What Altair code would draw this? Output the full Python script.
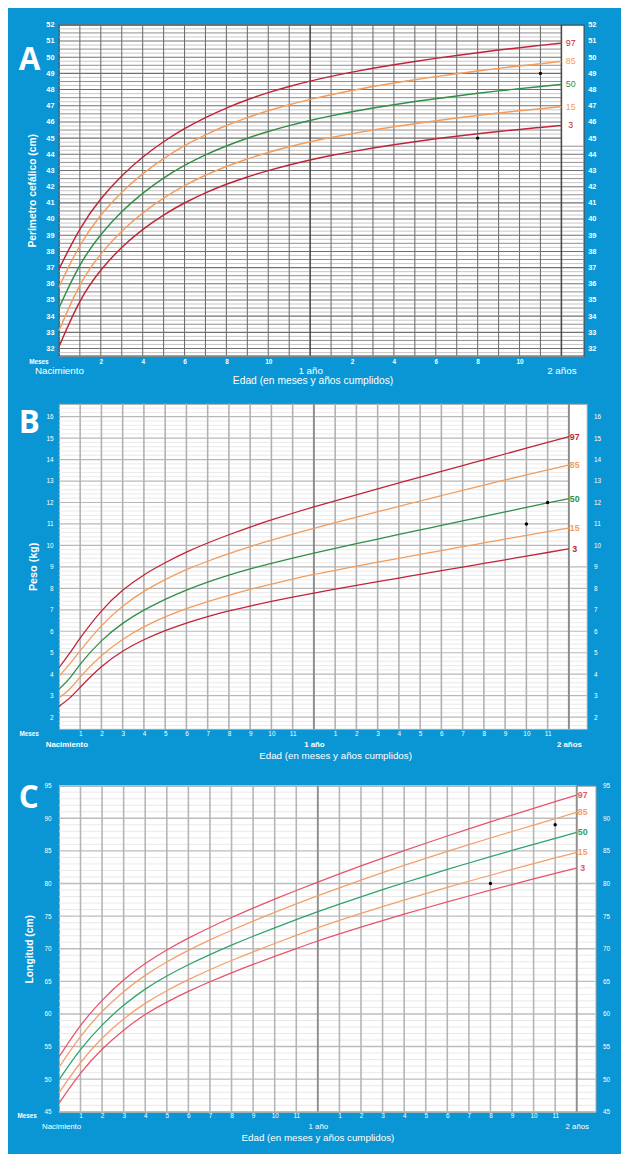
import altair as alt
import pandas as pd

# ---------------- data ----------------
months = list(range(25))
months_b = [0, 0.5] + list(range(1, 25))
pct_names = ["97", "85", "50", "15", "3"]

# A: Perímetro cefálico (cm)
hc_p97 = [36.9, 39.5, 41.3, 42.7, 43.85, 44.8, 45.6, 46.28, 46.87, 47.38, 47.82, 48.2, 48.53,
          48.82, 49.08, 49.32, 49.54, 49.74, 49.93, 50.11, 50.28, 50.44, 50.59, 50.73, 50.87]
hc_p85 = [35.8, 38.5, 40.3, 41.7, 42.82, 43.76, 44.55, 45.22, 45.79, 46.28, 46.7, 47.07, 47.4,
          47.69, 47.95, 48.19, 48.41, 48.61, 48.8, 48.98, 49.15, 49.31, 49.46, 49.6, 49.74]
hc_p50 = [34.5, 37.3, 39.1, 40.5, 41.62, 42.56, 43.33, 43.98, 44.53, 45.0, 45.42, 45.78, 46.1,
          46.38, 46.63, 46.86, 47.07, 47.26, 47.44, 47.61, 47.77, 47.92, 48.06, 48.19, 48.32]
hc_p15 = [33.1, 36.1, 37.9, 39.3, 40.4, 41.32, 42.08, 42.72, 43.26, 43.72, 44.12, 44.47, 44.78,
          45.04, 45.28, 45.5, 45.7, 45.89, 46.07, 46.24, 46.4, 46.55, 46.69, 46.82, 46.94]
hc_p3 = [32.1, 35.1, 36.9, 38.3, 39.38, 40.27, 41.01, 41.63, 42.16, 42.61, 43.0, 43.35, 43.66,
         43.93, 44.17, 44.39, 44.59, 44.78, 44.96, 45.12, 45.27, 45.41, 45.54, 45.66, 45.78]
a_pts_x = [20, 23]
a_pts_y = [45, 49]

# B: Peso (kg)  (months_b)
wt_p97 = [4.3, 4.95, 5.7, 7.0, 7.95, 8.65, 9.2, 9.7, 10.12, 10.5, 10.86, 11.19, 11.5, 11.8,
          12.08, 12.36, 12.64, 12.91, 13.18, 13.45, 13.72, 13.99, 14.26, 14.53, 14.8, 15.07]
wt_p85 = [3.9, 4.45, 5.1, 6.3, 7.2, 7.88, 8.42, 8.88, 9.27, 9.62, 9.95, 10.25, 10.53, 10.8,
          11.06, 11.32, 11.57, 11.82, 12.07, 12.32, 12.57, 12.81, 13.05, 13.29, 13.52, 13.75]
wt_p50 = [3.3, 3.75, 4.5, 5.6, 6.4, 7.0, 7.5, 7.93, 8.3, 8.62, 8.91, 9.17, 9.41, 9.64,
          9.86, 10.08, 10.3, 10.51, 10.72, 10.93, 11.14, 11.35, 11.56, 11.77, 11.98, 12.18]
wt_p15 = [2.9, 3.25, 3.9, 4.9, 5.65, 6.22, 6.68, 7.06, 7.39, 7.68, 7.95, 8.2, 8.43, 8.65,
          8.84, 9.03, 9.22, 9.4, 9.58, 9.76, 9.94, 10.12, 10.3, 10.47, 10.64, 10.81]
wt_p3 = [2.5, 2.85, 3.4, 4.4, 5.1, 5.62, 6.04, 6.39, 6.69, 6.95, 7.18, 7.39, 7.59, 7.78,
         7.96, 8.14, 8.31, 8.48, 8.65, 8.82, 8.99, 9.16, 9.33, 9.5, 9.67, 9.84]
b_pts_x = [22, 23]
b_pts_y = [11, 12]

# C: Longitud (cm)
ln_p97 = [53.4, 58.4, 62.2, 65.3, 67.8, 69.85, 71.65, 73.28, 74.8, 76.24, 77.61, 78.93, 80.22,
          81.48, 82.7, 83.89, 85.05, 86.18, 87.29, 88.38, 89.45, 90.5, 91.53, 92.55, 93.56]
ln_p85 = [51.8, 56.7, 60.5, 63.5, 66.0, 68.0, 69.77, 71.37, 72.85, 74.25, 75.59, 76.88, 78.15,
          79.35, 80.52, 81.66, 82.77, 83.86, 84.92, 85.96, 86.98, 87.98, 88.96, 89.93, 90.9]
ln_p50 = [49.9, 54.7, 58.4, 61.4, 63.9, 65.85, 67.57, 69.12, 70.56, 71.92, 73.22, 74.47, 75.69,
          76.85, 77.97, 79.06, 80.12, 81.15, 82.16, 83.15, 84.12, 85.07, 86.0, 86.92, 87.83]
ln_p15 = [47.9, 52.7, 56.4, 59.3, 61.7, 63.6, 65.28, 66.8, 68.21, 69.54, 70.81, 72.04, 73.24,
          74.35, 75.42, 76.46, 77.47, 78.45, 79.41, 80.35, 81.27, 82.17, 83.05, 83.92, 84.78]
ln_p3 = [46.3, 51.1, 54.7, 57.6, 60.0, 61.85, 63.48, 64.95, 66.32, 67.61, 68.84, 70.03, 71.2,
         72.27, 73.31, 74.32, 75.3, 76.25, 77.18, 78.09, 78.98, 79.85, 80.7, 81.54, 82.37]
c_pts_x = [20, 23]
c_pts_y = [80, 89]

# axis ticks / labels
a_yticks = list(range(32, 53))
b_yticks = list(range(2, 17))
c_yticks = list(range(45, 96, 5))
a_num_ticks = [2, 4, 6, 8, 10, 14, 16, 18, 20, 22]
bc_num_ticks = [m for m in range(1, 24) if m != 12]
a_name_ticks = [0, 12, 24]
b_name_ticks = [0.35, 12, 24]
c_name_ticks = [0.1, 12, 24]
x_title = "Edad (en meses y años cumplidos)"

BLUE = "#0a96d4"
FONT = "Liberation Sans"


def panel(letter, mx, series, pts_x, pts_y, xmax, ydom, w, h, yticks, num_ticks, name_ticks,
          hgrid, vgrid, thr, colors, st):
    xs = alt.Scale(domain=[0, xmax], nice=False, zero=False)
    ys = alt.Scale(domain=list(ydom), nice=False, zero=False)

    rows = [{"pct": p, "m": m, "v": v}
            for p, vals in zip(pct_names, series) for m, v in zip(mx, vals)]
    cdf = pd.DataFrame(rows)
    edf = pd.DataFrame({"pct": pct_names, "m": [mx[-1]] * 5,
                        "v": [vals[-1] for vals in series]})
    pdf = pd.DataFrame({"m": pts_x, "v": pts_y})
    col = alt.Color("pct:N", scale=alt.Scale(domain=pct_names, range=colors), legend=None)

    lab = dict(labelColor="white", labelFont=FONT, labelFontWeight=st["lw"],
               labelOverlap=False, labelFlush=False, ticks=False, tickSize=0,
               domain=False, grid=False)

    left_axis = alt.Axis(orient="left", values=yticks, format="d",
                         labelFontSize=st["ylfs"], labelPadding=st["ylp"],
                         title=st["ytitle"], titleColor="white", titleFont=FONT,
                         titleFontSize=st["ytfs"], titleFontWeight="bold",
                         titleAngle=270, titleX=st["ytx"], titleY=h / 2,
                         titleAlign="center", titleBaseline="middle", **lab)
    right_axis = alt.Axis(orient="right", values=yticks, format="d",
                          labelFontSize=st["ylfs"], labelPadding=st["yrp"],
                          title=None, **lab)
    num_axis = alt.Axis(orient="bottom", values=num_ticks,
                        labelExpr="'' + (datum.value > 12 ? datum.value - 12 : datum.value)",
                        labelFontSize=st["nfs"], labelPadding=st["nlp"],
                        title="Meses", titleColor="white", titleFont=FONT,
                        titleFontSize=st["mfs"], titleFontWeight="bold",
                        titleX=st["mx"], titleY=st["my"], titleAlign="right",
                        titleBaseline="middle", **lab)
    lab2 = dict(lab)
    lab2["labelFontWeight"] = st["namew"]
    names_axis = alt.Axis(orient="bottom", values=name_ticks,
                          labelExpr="datum.value < 1 ? 'Nacimiento' : (datum.value == 12 ? '1 año' : '2 años')",
                          labelFontSize=st["namefs"], labelPadding=st["namelp"],
                          title=x_title, titleColor="white", titleFont=FONT,
                          titleFontSize=st["xtfs"], titleFontWeight="normal",
                          titleX=st["xtx"], titleY=st["xty"], titleAlign="center",
                          titleBaseline="middle", **lab2)

    layers = []
    for i, (vals, c, sw) in enumerate(hgrid):
        df = pd.DataFrame({"v": vals, "x0": [0.0] * len(vals),
                           "x1": [24 if v > thr else xmax for v in vals]})
        layers.append(alt.Chart(df).mark_rule(color=c, strokeWidth=sw).encode(
            y=alt.Y("v:Q", scale=ys, axis=left_axis if i == len(hgrid) - 1 else None),
            x=alt.X("x0:Q", scale=xs, axis=None), x2="x1:Q"))
    for i, (vals, c, sw) in enumerate(vgrid):
        df = pd.DataFrame({"m": vals})
        layers.append(alt.Chart(df).mark_rule(color=c, strokeWidth=sw).encode(
            x=alt.X("m:Q", scale=xs, axis=num_axis if i == 0 else None)))
    layers.append(alt.Chart(cdf).mark_line(interpolate="basis", strokeWidth=st["cw"]).encode(
        x=alt.X("m:Q", scale=xs, axis=names_axis),
        y=alt.Y("v:Q", scale=ys, axis=right_axis),
        color=col, detail="pct:N"))
    layers.append(alt.Chart(pdf).mark_circle(size=12, color="black", opacity=1).encode(
        x=alt.X("m:Q", scale=xs, axis=None), y=alt.Y("v:Q", scale=ys, axis=None)))
    layers.append(alt.Chart(edf).mark_text(align="center", baseline="middle", dx=st["pdx"],
                                           fontSize=st["pfs"], font=FONT,
                                           fontWeight=st["pfw"]).encode(
        x=alt.X("m:Q", scale=xs, axis=None), y=alt.Y("v:Q", scale=ys, axis=None),
        text="pct:N", color=col))
    # panel letter
    layers.append(alt.Chart(pd.DataFrame({"t": [letter]})).mark_text(
        align="left", baseline="alphabetic", fontSize=32, font="Open Sans",
        fontWeight="bold", color="white").encode(
        x=alt.value(-41), y=alt.value(st["ty"]), text="t:N"))

    return alt.layer(*layers).resolve_scale(x="shared", y="shared").resolve_axis(
        x="independent", y="independent").properties(
        width=w, height=h,
        view=alt.ViewBackground(fill="white", stroke=st["border"], strokeWidth=st["bw"]))


def frange(a, b, step):
    out = []
    v = a
    while v <= b + 1e-9:
        out.append(round(v, 3))
        v += step
    return out


# ---------- Panel A ----------
a_hgrid = [
    ([v for v in frange(31.75, 51.75, 0.25) if abs(v * 2 - round(v * 2)) > 1e-6], "#b9b9b9", 0.8),
    ([v for v in frange(31.5, 51.5, 1.0)], "#8c8c8c", 1.0),
    (a_yticks, "#707070", 1.1),
]
a_vgrid = [
    ([m for m in range(1, 24) if m != 12], "#707070", 1.1),
    ([12, 24], "#4a4a4a", 1.6),
]
a_st = dict(lw="bold", ylfs=7.5, ylp=5, yrp=4, ytitle="Perímetro cefálico (cm)", ytfs=10.5,
            ytx=-27, nfs=6.5, nlp=3, mfs=6.5, mx=-11, my=6, namew="normal", namefs=10,
            namelp=10, xtfs=10.5, xtx=259, xty=25, cw=1.5, pdx=9.5, pfs=9, pfw="normal",
            ty=46, border="#4a4a4a", bw=1.2)
chart_a = panel("A", months, [hc_p97, hc_p85, hc_p50, hc_p15, hc_p3], a_pts_x, a_pts_y,
                25.07, (31.55, 52), 536, 338, a_yticks, a_num_ticks, a_name_ticks,
                a_hgrid, a_vgrid, 44.6,
                ["#bf2537", "#f39c5b", "#2f8f46", "#f39c5b", "#bf2537"], a_st)

# ---------- Panel B ----------
b_hgrid = [
    ([v for v in frange(1.6, 16.4, 0.2) if abs(v - round(v)) > 1e-6], "#e4e4e4", 0.8),
    (b_yticks, "#b8b8b8", 1.2),
]
b_vgrid = [
    ([m for m in range(1, 24) if m != 12], "#b0b0b0", 1.6),
    ([12, 24], "#8c8c8c", 2.0),
]
b_st = dict(lw="normal", ylfs=6.5, ylp=6, yrp=7, ytitle="Peso (kg)", ytfs=11,
            ytx=-26, nfs=6.5, nlp=2, mfs=6.5, mx=-21, my=5, namew="bold", namefs=8,
            namelp=12, xtfs=10, xtx=282, xty=27, cw=1.3, pdx=6, pfs=9, pfw="bold",
            ty=30, border="#a0a0a0", bw=1)
chart_b = panel("B", months_b, [wt_p97, wt_p85, wt_p50, wt_p15, wt_p3], b_pts_x, b_pts_y,
                24.84, (1.45, 16.6), 539, 332, b_yticks, bc_num_ticks, b_name_ticks,
                b_hgrid, b_vgrid, 9.0,
                ["#e8546b", "#f3a06a", "#2ea36c", "#f3a06a", "#e8546b"], b_st)

# ---------- Panel C ----------
c_hgrid = [
    ([v for v in range(46, 95) if v % 5 != 0], "#e3e3e3", 0.8),
    (c_yticks, "#bdbdbd", 1.4),
]
c_vgrid = [
    ([m for m in range(1, 24) if m != 12], "#b5b5b5", 1.6),
    ([12, 24], "#909090", 2.0),
]
c_st = dict(lw="normal", ylfs=6.5, ylp=8, yrp=7, ytitle="Longitud (cm)", ytfs=10.5,
            ytx=-30, nfs=6.5, nlp=1, mfs=6.5, mx=-23, my=4, namew="normal", namefs=8,
            namelp=11, xtfs=10, xtx=264, xty=26, cw=1.3, pdx=6, pfs=9, pfw="bold",
            ty=23, border="#a0a0a0", bw=1)
chart_c = panel("C", months, [ln_p97, ln_p85, ln_p50, ln_p15, ln_p3], c_pts_x, c_pts_y,
                24.87, (45, 95), 548, 333, c_yticks, bc_num_ticks, c_name_ticks,
                c_hgrid, c_vgrid, 80.0,
                ["#e8546b", "#f3a06a", "#2ea36c", "#f3a06a", "#e8546b"], c_st)

top = alt.vconcat(chart_a, chart_b, spacing=15)
chart = alt.vconcat(top, chart_c, spacing=21).resolve_scale(
    color="independent").configure(
    background=BLUE, padding={"left": 8, "top": 0, "right": 11, "bottom": 2})

chart.save("out.html", embed_options={"renderer": "svg", "actions": False})
